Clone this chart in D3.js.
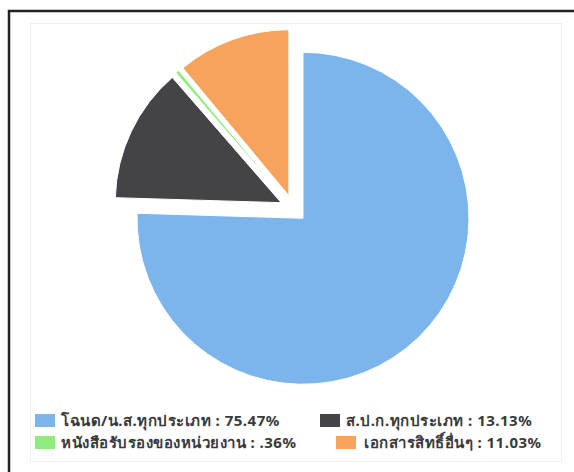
<!DOCTYPE html>
<html>
<head>
	<meta charset="utf-8">
	<title>Pie</title>
	<style type="text/css">
		body {
			margin: 0;
			background: #fff;
		}
		.legend text {
			font: bold 15px Tahoma, "Noto Sans", "DejaVu Sans", sans-serif;
			letter-spacing: 0.5px;
			fill: #3a3a3a;
		}
	</style>
	<script src="https://d3js.org/d3.v7.min.js"></script>
</head>
<body>
<div class="container"></div>
<script type="text/javascript">
	// data
	var categories = ["โฉนด/น.ส.ทุกประเภท", "ส.ป.ก.ทุกประเภท", "หนังสือรับรองของหน่วยงาน", "เอกสารสิทธิ์อื่นๆ"];
	var values = [75.47, 13.13, 0.36, 11.03];
	var valueLabels = ["75.47%", "13.13%", ".36%", "11.03%"];
	var colors = ["#7cb5ec", "#434348", "#90ed7d", "#f7a35c"];

	var width = 574, height = 472;

	var svg = d3.select(".container").append("svg")
		.attr("width", width)
		.attr("height", height);

	// outer frame (cut off on the right / bottom)
	svg.append("rect")
		.attr("x", 9).attr("y", 11)
		.attr("width", 600).attr("height", 500)
		.attr("fill", "none")
		.attr("stroke", "#222")
		.attr("stroke-width", 2.5);

	// inner panel
	svg.append("rect")
		.attr("x", 30.5).attr("y", 23.5)
		.attr("width", 531).attr("height", 438)
		.attr("fill", "#fff")
		.attr("stroke", "#f0f0f0");

	var cx = 293.5, cy = 208.5, radius = 166, slice = 13.6;

	var pie = d3.pie().sort(null).value(function(d) { return d; });
	var arc = d3.arc().innerRadius(0).outerRadius(radius);

	var g = svg.append("g")
		.attr("transform", "translate(" + cx + "," + cy + ")");

	g.selectAll(".slice")
		.data(pie(values))
		.enter().append("path")
			.attr("class", "slice")
			.attr("d", arc)
			.attr("fill", function(d, i) { return colors[i]; })
			.attr("stroke", "#fff")
			.attr("stroke-width", 1)
			.attr("transform", function(d) {
				var a = (d.startAngle + d.endAngle) / 2;
				return "translate(" + (Math.sin(a) * slice) + "," + (-Math.cos(a) * slice) + ")";
			});

	// legend: two rows
	var legendPos = [[35, 421], [320, 421], [35, 443], [336, 443]];

	var legend = svg.append("g").attr("class", "legend");

	var item = legend.selectAll("g")
		.data(categories)
		.enter().append("g")
			.attr("transform", function(d, i) { return "translate(" + legendPos[i][0] + "," + legendPos[i][1] + ")"; });

	item.append("rect")
		.attr("x", 0).attr("y", -7)
		.attr("width", 20).attr("height", 13)
		.attr("fill", function(d, i) { return colors[i]; });

	item.append("text")
		.attr("x", function(d, i) { return i == 3 ? 28 : 26; })
		.attr("dy", "0.35em")
		.text(function(d, i) { return d + " : " + valueLabels[i]; });
</script>
</body>
</html>
